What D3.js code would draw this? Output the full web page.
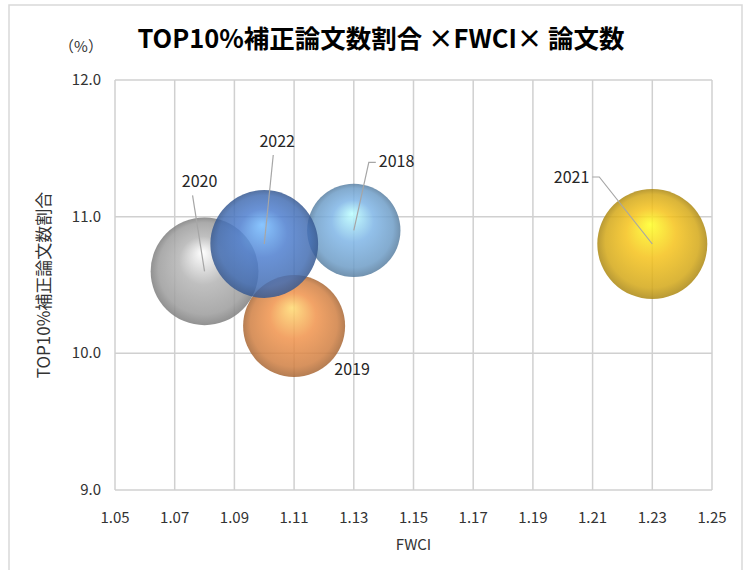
<!DOCTYPE html>
<html lang="ja">
<head>
<meta charset="UTF-8">
<title>TOP10%補正論文数割合 ×FWCI× 論文数</title>
<style>
    body { margin: 0; background: #fff; }
    text { font-family: "Noto Sans CJK JP", "Noto Sans", sans-serif; fill: #333; }
</style>
</head>
<body>
<div id="chart"></div>
<script src="https://d3js.org/d3.v7.min.js"></script>
<script>
    // データ
    const years = ["2018", "2019", "2020", "2021", "2022"];
    const fwci = [1.13, 1.11, 1.08, 1.23, 1.10];
    const top10Share = [10.9, 10.2, 10.6, 10.8, 10.8];
    const paperCount = [7200, 8600, 9600, 10000, 9600];
    const xTicks = [1.05, 1.07, 1.09, 1.11, 1.13, 1.15, 1.17, 1.19, 1.21, 1.23, 1.25];
    const yTicks = [9.0, 10.0, 11.0, 12.0];
    const colors = ["#7fb5e6", "#f0934c", "#b4b4b4", "#f5c21a", "#4f7fcf"];
    // ラベル位置（バブル中心からのずれ）
    const labelOffsets = [[25, -63], [58, 49], [-5, -84], [-63, -61], [13, -97]];

    const W = 753, H = 570;
    const margin = {top: 80, right: 41, bottom: 80, left: 115};

    const svg = d3.select("#chart").append("svg")
        .attr("width", W)
        .attr("height", H);

    svg.append("rect")
        .attr("x", 9).attr("y", 5)
        .attr("width", 733).attr("height", H + 10)
        .attr("fill", "none")
        .attr("stroke", "#d9d9d9")
        .attr("stroke-width", 1.5);

    const x = d3.scaleLinear().domain([1.05, 1.25]).range([margin.left, W - margin.right]);
    const y = d3.scaleLinear().domain([9, 12]).range([H - margin.bottom, margin.top]);
    const r = d3.scaleSqrt().domain([0, 10000]).range([0, 55]);

    // グリッド
    svg.append("g").selectAll("line").data(xTicks).enter().append("line")
        .attr("x1", d => x(d)).attr("x2", d => x(d))
        .attr("y1", y(9)).attr("y2", y(12))
        .attr("stroke", "#d0d0d0").attr("stroke-width", 1.5);
    svg.append("g").selectAll("line").data(yTicks).enter().append("line")
        .attr("x1", x(1.05)).attr("x2", x(1.25))
        .attr("y1", d => y(d)).attr("y2", d => y(d))
        .attr("stroke", "#d0d0d0").attr("stroke-width", 1.5);

    // 軸ラベル
    svg.append("g").selectAll("text").data(xTicks).enter().append("text")
        .attr("x", d => x(d)).attr("y", H - 47)
        .attr("text-anchor", "middle")
        .style("font-size", "15px")
        .text(d => d.toFixed(2));
    svg.append("g").selectAll("text").data(yTicks).enter().append("text")
        .attr("x", 101).attr("y", d => y(d) + 5)
        .attr("text-anchor", "end")
        .style("font-size", "15px")
        .text(d => d.toFixed(1));

    // グラデーション
    const defs = svg.append("defs");
    colors.forEach((c, i) => {
        const g = defs.append("radialGradient")
            .attr("id", "grad" + i)
            .attr("cx", "50%").attr("cy", "50%").attr("r", "50%")
            .attr("fx", "48%").attr("fy", "32%");
        g.append("stop").attr("offset", "0%").attr("stop-color", d3.color(c).brighter(1.1));
        g.append("stop").attr("offset", "45%").attr("stop-color", c);
        g.append("stop").attr("offset", "85%").attr("stop-color", d3.color(c).darker(0.4));
        g.append("stop").attr("offset", "100%").attr("stop-color", d3.color(c).darker(1.0));
    });

    // バブル
    svg.append("g").selectAll("circle").data(years).enter().append("circle")
        .attr("cx", (d, i) => x(fwci[i]))
        .attr("cy", (d, i) => y(top10Share[i]))
        .attr("r", (d, i) => r(paperCount[i]))
        .attr("fill", (d, i) => "url(#grad" + i + ")")
        .attr("fill-opacity", 0.85);

    // 引き出し線とラベル
    years.forEach((yr, i) => {
        const cx = x(fwci[i]), cy = y(top10Share[i]);
        const lx = cx + labelOffsets[i][0], ly = cy + labelOffsets[i][1];
        if (i !== 1) {
            let pts;
            if (i === 0) pts = [[cx, cy], [cx + 15, ly - 5], [cx + 22, ly - 5]];
            else if (i === 3) pts = [[cx, cy], [cx - 53, ly - 6], [cx - 60, ly - 6]];
            else if (i === 2) pts = [[cx, cy], [lx - 7, ly + 8]];
            else pts = [[cx, cy], [lx - 4, ly + 8]];
            svg.append("path")
                .attr("d", d3.line()(pts))
                .attr("fill", "none")
                .attr("stroke", "#a6a6a6")
                .attr("stroke-width", 1.2);
        }
        svg.append("text")
            .attr("x", lx).attr("y", ly)
            .attr("text-anchor", i === 0 ? "start" : (i === 3 ? "end" : "middle"))
            .style("font-size", "16px")
            .style("fill", "#262626")
            .text(yr);
    });

    // タイトル
    svg.append("text")
        .attr("x", 381).attr("y", 48)
        .attr("text-anchor", "middle")
        .style("font-size", "25.5px")
        .style("font-weight", "bold")
        .style("fill", "#000")
        .text("TOP10%補正論文数割合 ×FWCI× 論文数");
    svg.append("text")
        .attr("x", 81).attr("y", 52)
        .attr("text-anchor", "middle")
        .style("font-size", "15px")
        .text("（%）");

    svg.append("text")
        .attr("x", x(1.15)).attr("y", H - 20)
        .attr("text-anchor", "middle")
        .style("font-size", "15px")
        .text("FWCI");
    svg.append("text")
        .attr("transform", "translate(50," + y(10.5) + ") rotate(-90)")
        .attr("text-anchor", "middle")
        .style("font-size", "17px")
        .text("TOP10%補正論文数割合");
</script>
</body>
</html>
